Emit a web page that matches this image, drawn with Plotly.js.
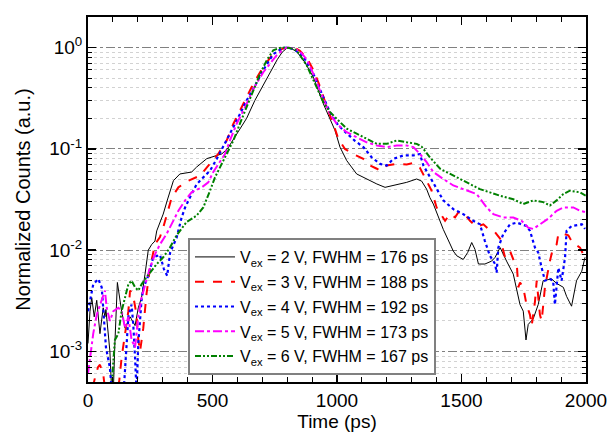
<!DOCTYPE html>
<html>
<head>
<meta charset="utf-8">
<script src="https://cdn.plot.ly/plotly-3.0.1.min.js"></script>
<style>html,body{margin:0;padding:0;background:#fff;}#chart{width:608px;height:432px;}</style>
</head>
<body>
<div id="chart"></div>
<script>
// ---- data ----
const seriesNames = [
  "V<sub>ex</sub> = 2 V, FWHM = 176 ps",
  "V<sub>ex</sub> = 3 V, FWHM = 188 ps",
  "V<sub>ex</sub> = 4 V, FWHM = 192 ps",
  "V<sub>ex</sub> = 5 V, FWHM = 173 ps",
  "V<sub>ex</sub> = 6 V, FWHM = 167 ps"
];

const t2 = [0, 8, 15, 25, 35, 48, 61, 68, 72, 80, 88, 95, 100, 108, 118, 135, 149, 169, 189, 202, 215, 229, 242, 256, 269, 276, 302, 320, 343, 369, 416, 436, 477, 517, 537, 560, 600, 637, 670, 700, 731, 760, 780, 800, 811, 840, 870, 905, 945, 972, 992, 1012, 1039, 1079, 1119, 1160, 1193, 1240, 1280, 1320, 1340, 1360, 1373, 1387, 1414, 1427, 1454, 1467, 1481, 1507, 1525, 1541, 1554, 1568, 1594, 1621, 1635, 1655, 1681, 1708, 1735, 1748, 1759, 1768, 1788, 1808, 1828, 1862, 1882, 1909, 1922, 1942, 1962, 1983, 1996];
const v2 = [0.0012, 0.0025, 0.0034, 0.0022, 0.0032, 0.0015, 0.0027, 0.0022, 0.0026, 0.0016, 0.001, 0.0004, 0.0003, 0.0012, 0.0048, 0.0025, 0.0017, 0.0022, 0.0018, 0.0027, 0.0034, 0.0058, 0.010, 0.0114, 0.0123, 0.0155, 0.0227, 0.032, 0.0485, 0.0565, 0.059, 0.066, 0.080, 0.086, 0.089, 0.10, 0.145, 0.2, 0.3, 0.41, 0.55, 0.76, 0.9, 0.99, 1.0, 0.9, 0.72, 0.51, 0.279, 0.198, 0.152, 0.104, 0.0766, 0.0565, 0.0504, 0.045, 0.0417, 0.0443, 0.0467, 0.0504, 0.048, 0.040, 0.033, 0.0285, 0.0195, 0.016, 0.0115, 0.0098, 0.0088, 0.0081, 0.0095, 0.0119, 0.0102, 0.0073, 0.0073, 0.0078, 0.0085, 0.0106, 0.0078, 0.0058, 0.0029, 0.0025, 0.0013, 0.00185, 0.0021, 0.0029, 0.005, 0.0052, 0.0047, 0.0043, 0.0035, 0.0028, 0.005, 0.0062, 0.0085];

const t3 = [0, 15, 28, 40, 48, 61, 70, 80, 110, 125, 135, 149, 162, 169, 182, 195, 202, 209, 222, 235, 249, 269, 289, 302, 322, 336, 363, 403, 450, 490, 523, 557, 584, 624, 664, 704, 744, 780, 805, 830, 851, 880, 905, 932, 959, 985, 1005, 1032, 1065, 1106, 1133, 1160, 1173, 1200, 1240, 1280, 1307, 1333, 1353, 1380, 1400, 1434, 1454, 1474, 1487, 1507, 1534, 1560, 1588, 1608, 1635, 1655, 1675, 1695, 1708, 1722, 1728, 1735, 1748, 1761, 1775, 1782, 1795, 1802, 1808, 1815, 1822, 1835, 1855, 1868, 1882, 1889, 1909, 1929, 1942, 1956, 1976, 1989, 2000];
const v3 = [0.0003, 0.0004, 0.00055, 0.0007, 0.00074, 0.0006, 0.0004, 0.0003, 0.0003, 0.0005, 0.00087, 0.0015, 0.0025, 0.004, 0.0035, 0.0023, 0.0013, 0.001, 0.0017, 0.0037, 0.0067, 0.0114, 0.0135, 0.0167, 0.025, 0.033, 0.0417, 0.0485, 0.0544, 0.071, 0.089, 0.121, 0.177, 0.279, 0.44, 0.643, 0.87, 0.97, 1.0, 0.99, 0.93, 0.78, 0.60, 0.41, 0.258, 0.177, 0.126, 0.0997, 0.089, 0.0795, 0.0684, 0.0636, 0.0608, 0.0684, 0.071, 0.070, 0.0725, 0.065, 0.0523, 0.0386, 0.0264, 0.0195, 0.0227, 0.0211, 0.0236, 0.0236, 0.0195, 0.017, 0.018, 0.0162, 0.015, 0.013, 0.0085, 0.0098, 0.0081, 0.0073, 0.0043, 0.0048, 0.0043, 0.0029, 0.0023, 0.0018, 0.0031, 0.005, 0.0035, 0.0023, 0.002, 0.0043, 0.0078, 0.0106, 0.0114, 0.0145, 0.0145, 0.014, 0.0123, 0.0114, 0.0106, 0.0091, 0.0095];

const t4 = [0, 8, 21, 41, 55, 61, 68, 72, 88, 100, 140, 149, 155, 162, 175, 182, 189, 195, 202, 215, 222, 242, 262, 289, 305, 318, 330, 356, 376, 390, 416, 436, 463, 490, 517, 543, 570, 604, 637, 671, 704, 744, 780, 800, 830, 865, 905, 945, 972, 1005, 1039, 1072, 1106, 1139, 1173, 1200, 1226, 1266, 1307, 1333, 1347, 1373, 1400, 1427, 1467, 1507, 1547, 1574, 1594, 1614, 1635, 1641, 1648, 1668, 1695, 1722, 1761, 1775, 1795, 1808, 1822, 1835, 1855, 1868, 1875, 1882, 1889, 1902, 1916, 1922, 1942, 1983, 1996];
const v4 = [0.0025, 0.0032, 0.0046, 0.0052, 0.0043, 0.0027, 0.0015, 0.0011, 0.00069, 0.0003, 0.0003, 0.00069, 0.0012, 0.0022, 0.0029, 0.0018, 0.00087, 0.0004, 0.0012, 0.0032, 0.0042, 0.0056, 0.0085, 0.009, 0.0065, 0.0056, 0.0095, 0.0133, 0.021, 0.0264, 0.0358, 0.0445, 0.0523, 0.0608, 0.0795, 0.104, 0.141, 0.205, 0.30, 0.42, 0.60, 0.86, 0.98, 1.0, 0.96, 0.81, 0.55, 0.324, 0.23, 0.17, 0.141, 0.12, 0.104, 0.0826, 0.071, 0.0684, 0.0795, 0.086, 0.086, 0.089, 0.0684, 0.0523, 0.040, 0.031, 0.0254, 0.0227, 0.0195, 0.018, 0.0123, 0.0088, 0.0073, 0.006, 0.0106, 0.0145, 0.018, 0.0187, 0.0173, 0.0155, 0.0106, 0.0095, 0.0067, 0.005, 0.0052, 0.005, 0.0029, 0.0045, 0.0067, 0.005, 0.0085, 0.0155, 0.0173, 0.018, 0.0162];

const t5 = [0, 8, 21, 35, 48, 61, 68, 75, 88, 102, 122, 135, 149, 162, 175, 189, 202, 215, 229, 249, 269, 289, 316, 343, 363, 390, 416, 457, 483, 503, 523, 550, 570, 597, 631, 664, 704, 758, 790, 805, 830, 851, 880, 905, 945, 972, 999, 1039, 1079, 1119, 1160, 1200, 1240, 1280, 1307, 1333, 1360, 1387, 1427, 1467, 1507, 1561, 1601, 1628, 1668, 1708, 1741, 1768, 1788, 1815, 1848, 1882, 1909, 1949, 1976, 2000];
const v5 = [0.0006, 0.0009, 0.0015, 0.0023, 0.0029, 0.0037, 0.004, 0.0027, 0.002, 0.0025, 0.0027, 0.0025, 0.0017, 0.0022, 0.0013, 0.0011, 0.0022, 0.0034, 0.0046, 0.0067, 0.0091, 0.0114, 0.0145, 0.0195, 0.0245, 0.031, 0.0372, 0.0417, 0.0467, 0.059, 0.071, 0.089, 0.121, 0.177, 0.258, 0.39, 0.57, 0.84, 0.98, 1.0, 0.97, 0.92, 0.75, 0.55, 0.31, 0.22, 0.177, 0.146, 0.13, 0.116, 0.108, 0.104, 0.108, 0.108, 0.104, 0.089, 0.0738, 0.059, 0.0504, 0.0435, 0.040, 0.0358, 0.0264, 0.0227, 0.021, 0.021, 0.0195, 0.0167, 0.0162, 0.018, 0.0204, 0.0245, 0.0264, 0.0264, 0.0245, 0.0236];

const t6 = [95, 100, 108, 122, 135, 149, 162, 175, 189, 202, 215, 235, 256, 276, 302, 329, 356, 396, 436, 463, 490, 510, 537, 557, 584, 610, 637, 664, 691, 718, 744, 770, 790, 810, 838, 878, 918, 945, 972, 1005, 1039, 1079, 1119, 1160, 1200, 1240, 1280, 1320, 1340, 1373, 1414, 1454, 1494, 1534, 1574, 1614, 1655, 1708, 1748, 1788, 1828, 1855, 1882, 1909, 1935, 1976, 2000];
const v6 = [0.0003, 0.0007, 0.0013, 0.0015, 0.0025, 0.0034, 0.0046, 0.005, 0.0043, 0.004, 0.0046, 0.0054, 0.0063, 0.0073, 0.0085, 0.0106, 0.014, 0.019, 0.0219, 0.0264, 0.0386, 0.0523, 0.071, 0.089, 0.121, 0.177, 0.258, 0.378, 0.55, 0.75, 0.94, 0.99, 1.0, 0.99, 0.94, 0.67, 0.41, 0.29, 0.23, 0.19, 0.158, 0.141, 0.126, 0.112, 0.112, 0.121, 0.116, 0.112, 0.105, 0.0826, 0.0636, 0.0565, 0.0504, 0.045, 0.040, 0.0372, 0.0344, 0.0318, 0.0285, 0.031, 0.0298, 0.0276, 0.031, 0.0358, 0.0386, 0.0372, 0.0344];

const yTickVals = [0.001, 0.01, 0.1, 1];
const yTickText = ["10<sup>-3</sup>", "10<sup>-2</sup>", "10<sup>-1</sup>", "10<sup>0</sup>"];
const yMinorVals = [0.0005, 0.0006, 0.0007, 0.0008, 0.0009,
  0.002, 0.003, 0.004, 0.005, 0.006, 0.007, 0.008, 0.009,
  0.02, 0.03, 0.04, 0.05, 0.06, 0.07, 0.08, 0.09,
  0.2, 0.3, 0.4, 0.5, 0.6, 0.7, 0.8, 0.9, 2];

// ---- styling ----
const FONT = "'Liberation Sans', Arial, sans-serif";
const styles = [
  {color: "#000000", dash: "solid", width: 1},
  {color: "#ff0000", dash: "dash", width: 2},
  {color: "#0000ff", dash: "dot", width: 2.2},
  {color: "#ff00ff", dash: "dashdot", width: 2},
  {color: "#008000", dash: "6px,2px,2px,2px,2px,2px", width: 2}
];
const xs = [t2, t3, t4, t5, t6];
const ys = [v2, v3, v4, v5, v6];

const traces = xs.map((x, i) => ({
  x: x, y: ys[i], type: "scatter", mode: "lines",
  name: seriesNames[i], legendgroup: "g" + i,
  line: {color: styles[i].color, dash: styles[i].dash, width: styles[i].width}
}));

const layout = {
  width: 608, height: 432,
  margin: {l: 88, r: 22, t: 17, b: 50},
  paper_bgcolor: "#fff", plot_bgcolor: "#fff",
  font: {family: FONT, size: 18, color: "#000"},
  showlegend: true,
  legend: {
    x: 0.2008, y: 0.3945, xanchor: "left", yanchor: "top",
    bgcolor: "#fff", bordercolor: "#808080", borderwidth: 2,
    font: {family: FONT, size: 16, color: "#000"},
    tracegroupgap: 1, itemwidth: 40
  },
  xaxis: {
    range: [0, 2000], dtick: 500, tick0: 0,
    ticks: "inside", ticklen: 8, tickwidth: 1.5, tickcolor: "#000",
    minor: {dtick: 100, ticks: "inside", ticklen: 5, tickwidth: 1, tickcolor: "#000", showgrid: false},
    showline: true, linewidth: 2, linecolor: "#000", mirror: "ticks",
    showgrid: false, zeroline: false,
    tickfont: {family: FONT, size: 19},
    title: {text: "Time (ps)", font: {family: FONT, size: 19}, standoff: 20}
  },
  yaxis: {
    type: "log", range: [Math.log10(0.0005), Math.log10(2)],
    tickmode: "array", tickvals: yTickVals, ticktext: yTickText,
    ticks: "inside", ticklen: 8, tickwidth: 1.5, tickcolor: "#000",
    minor: {tickmode: "array", tickvals: yMinorVals, ticks: "inside", ticklen: 4, tickwidth: 1, tickcolor: "#000",
            showgrid: true, gridcolor: "#d2d2d2", griddash: "dot", gridwidth: 1},
    showgrid: true, gridcolor: "#808080", griddash: "dashdot", gridwidth: 1,
    showline: true, linewidth: 2, linecolor: "#000", mirror: "ticks",
    zeroline: false,
    tickfont: {family: FONT, size: 19},
    title: {text: "Normalized Counts (a.u.)", font: {family: FONT, size: 20}, standoff: 13}
  }
};

Plotly.newPlot("chart", traces, layout, {displayModeBar: false, staticPlot: true});
</script>
</body>
</html>
